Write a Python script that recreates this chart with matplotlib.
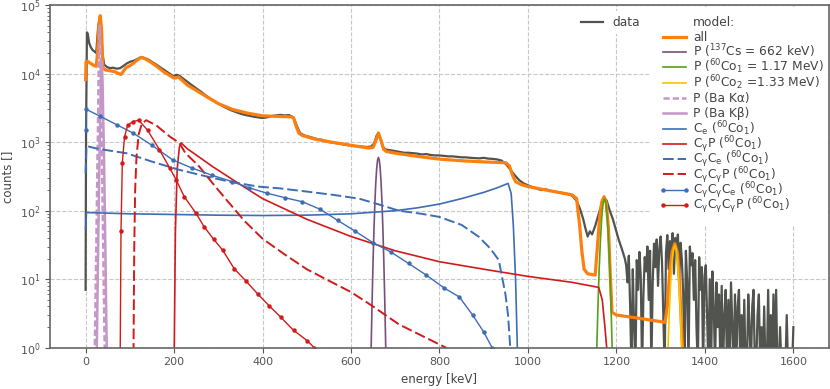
import numpy as np
import matplotlib
matplotlib.use("Agg")
from matplotlib import pyplot as plt
from matplotlib.lines import Line2D
from matplotlib.patches import Rectangle

# measured spectrum (channel energy [keV], counts)
e_data = [0, 1, 3, 5, 8, 12, 16, 20, 24, 28, 31, 33, 35, 38, 42, 48, 55, 62, 70, 78,
          86, 94, 102, 110, 118, 126, 134, 142, 150, 160, 170, 180, 190, 198, 206, 212,
          220, 230, 240, 250, 260, 270, 280, 290, 300, 310, 320, 330, 340, 350, 360, 370,
          380, 390, 400, 410, 420, 430, 440, 450, 460, 470, 478, 485, 495, 505, 515, 525,
          535, 545, 555, 565, 575, 585, 595, 605, 615, 625, 635, 645, 652, 658, 662, 667,
          672, 678, 690, 700, 710, 720, 730, 740, 750, 760, 770, 780, 790, 800, 810, 820,
          830, 840, 850, 860, 870, 880, 890, 900, 910, 920, 930, 940, 950, 960, 970, 980,
          990, 1000, 1010, 1020, 1030, 1040, 1050, 1060, 1070, 1080, 1090, 1100, 1110, 1118,
          1125, 1130, 1135, 1140, 1145, 1152, 1160, 1166, 1172, 1178, 1185, 1192, 1198, 1205,
          1212, 1219]
counts = [7, 1400, 40000, 38000, 28000, 24000, 22000, 21000, 20000, 45000, 62000, 65000, 50000,
          20000, 13500, 12500, 12000, 12200, 11800, 12000, 13000, 14200, 15000, 15500, 16500,
          17500, 16800, 16000, 14800, 13500, 12200, 11000, 10000, 9200, 9600, 9300, 8500,
          7600, 6800, 6100, 5500, 4900, 4400, 4000, 3650, 3350, 3100, 2900, 2750, 2600, 2500,
          2420, 2350, 2300, 2250, 2300, 2400, 2450, 2500, 2450, 2480, 2300, 1700, 1350, 1250,
          1200, 1150, 1100, 1080, 1020, 990, 970, 950, 920, 900, 880, 870, 860, 850, 860, 950,
          1250, 1350, 1100, 850, 780, 760, 740, 720, 700, 700, 690, 680, 660, 670, 650, 640,
          640, 630, 620, 620, 610, 600, 600, 590, 585, 580, 590, 575, 570, 560, 540, 480, 400,
          330, 280, 250, 235, 220, 210, 200, 205, 195, 190, 185, 180, 175, 165, 140, 105, 75,
          55, 42, 50, 45, 60, 90, 120, 155, 140, 100, 75, 55, 38, 28, 20]
# noisy high-energy tail, 3 keV channels from 1222 keV
e_tail = list(range(1222, 1601, 3))
counts_tail = [16, 9, 22, 4, 0.5, 14, 2, 0.5, 19, 7,
               25, 11, 0.5, 6, 21, 13, 30, 5, 26, 0.5,
               9, 33, 15, 38, 8, 28, 42, 18, 3, 0.5,
               24, 44, 14, 36, 22, 47, 12, 40, 28, 45,
               10, 34, 19, 6, 0.5, 26, 9, 0.5, 30, 16,
               24, 5, 19, 2, 0.5, 21, 7, 15, 0.5, 11,
               16, 3, 0.5, 10, 0.5, 13, 4, 0.5, 9, 2,
               6, 0.5, 8, 0.5, 3, 7, 0.5, 5, 0.5, 9,
               2, 0.5, 6, 0.5, 4, 7, 0.5, 3, 0.5, 5,
               0.5, 0.5, 6, 2, 0.5, 4, 7, 0.5, 0.5, 3,
               6, 0.5, 2, 0.5, 4, 0.5, 0.5, 7, 0.5, 3,
               0.5, 6, 0.5, 7, 0.5, 0.5, 2, 0.5, 0.5, 0.5,
               0.5, 3, 0.5, 0.5, 0.5, 0.5, 2]

# total model
e_all = [0, 1, 5, 12, 20, 24, 27, 30, 33, 36, 39, 45, 55, 65, 75, 80, 86, 92, 100, 110, 118,
         126, 134, 145, 160, 175, 190, 200, 205, 210, 218, 230, 250, 276, 300, 332, 366, 400,
         430, 465, 470, 476, 482, 490, 520, 560, 600, 640, 650, 656, 662, 668, 674, 680, 700,
         750, 800, 850, 900, 950, 958, 965, 972, 985, 1000, 1050, 1100, 1110, 1117, 1122,
         1127, 1135, 1152, 1157, 1162, 1167, 1172, 1177, 1182, 1186, 1190, 1200, 1250, 1310,
         1315, 1320, 1326, 1332, 1338, 1343, 1348, 1352]
all_model = [8200, 15000, 15000, 14000, 13000, 12800, 20000, 50000, 70000, 45000, 12000, 11300,
             11000, 10700, 10000, 9700, 11000, 12300, 13000, 14500, 16000, 17200, 16500, 15000,
             12900, 10800, 9400, 8600, 8700, 8900, 8000, 6800, 5700, 4500, 3650, 3000, 2650,
             2420, 2380, 2340, 2250, 1700, 1350, 1250, 1100, 990, 900, 820, 840, 1050, 1360,
             1050, 780, 730, 690, 620, 565, 535, 515, 500, 450, 330, 265, 240, 225, 195, 170,
             150, 60, 25, 14, 12, 11.5, 30, 80, 135, 160, 130, 55, 12, 3.3, 3.0, 2.7, 2.35, 4,
             12, 25, 33, 24, 8, 1.5, 0.5]

# photo peaks
e_cs = [644, 646, 648, 650, 652, 654, 656, 658, 660, 662, 664, 666, 668, 670, 672, 674, 676, 678, 680]
p_cs = [0.28, 1.45, 5.9, 20, 56, 132, 255, 411, 546, 600, 546, 411, 255, 132, 56, 20, 5.9, 1.45, 0.28]
e_co1 = [1152, 1155, 1158, 1161, 1164, 1167, 1170, 1173, 1176, 1179, 1182, 1185, 1188, 1191, 1194]
p_co1 = [0.1, 0.7, 3.6, 14, 39, 83, 129, 150, 129, 83, 39, 14, 3.6, 0.7, 0.1]
e_co2 = [1314, 1317, 1320, 1323, 1326, 1329, 1332, 1335, 1338, 1341, 1344, 1347, 1350]
p_co2 = [0.29, 1.2, 3.9, 9.7, 18.5, 27.3, 31, 27.3, 18.5, 9.7, 3.9, 1.2, 0.29]
e_ka = [20.5, 22, 24, 26, 27.5, 28.5, 30, 32, 34, 35.5, 36.5, 38, 40, 42, 43.5]
p_ka = [0.8, 3, 25, 200, 1000, 3000, 20000, 50000, 20000, 3000, 1000, 200, 25, 3, 0.8]
e_kb = [24.5, 26, 28, 30, 31.5, 33, 34.5, 36.5, 38.5, 40, 41.5, 43, 45, 47, 48.5]
p_kb = [0.5, 2, 20, 150, 700, 2000, 7000, 15000, 7000, 2000, 700, 150, 20, 2, 0.5]

# compton components of 60Co_1
e_ce = [0, 2, 50, 100, 200, 300, 400, 500, 600, 700, 750, 800, 850, 900, 930, 955, 962, 967, 972, 976, 980]
c_ce = [55, 94, 92, 90, 88, 86, 85, 86, 90, 100, 110, 125, 150, 185, 215, 250, 180, 60, 10, 1, 0.1]
e_cgp = [200, 203, 207, 212, 216, 230, 250, 287, 350, 400, 500, 600, 700, 800, 900, 1000,
         1100, 1160, 1168, 1174, 1178, 1181]
c_cgp = [0.5, 50, 400, 850, 975, 800, 650, 440, 240, 150, 75, 42, 26, 18, 14, 11, 9, 7.6, 5, 2, 1, 0.3]
e_cgce = [0, 2, 20, 50, 92, 150, 212, 270, 325, 392, 438, 500, 560, 618, 660, 708, 760,
          800, 850, 889, 915, 934, 949, 955, 960, 964]
c_cgce = [350, 880, 820, 760, 690, 520, 394, 320, 265, 224, 212, 190, 170, 150, 125, 100, 90,
          81, 62, 41.5, 28, 19, 6.1, 3, 1, 0.3]
e_cgcgp = [108, 110, 112, 115, 120, 127, 137, 160, 190, 212, 225, 257, 287, 320, 360, 400,
           450, 500, 550, 600, 650, 708, 760, 815, 840]
c_cgcgp = [0.5, 30, 200, 600, 1300, 1850, 2090, 1750, 1210, 975, 700, 440, 252, 140, 70, 39,
           23, 14, 9.5, 6.5, 4, 2.2, 1.5, 1, 0.7]
e_cgcgce = [0, 2, 32, 70, 107, 150, 197, 240, 285, 332, 370, 410, 450, 490, 530, 570, 610,
            650, 690, 730, 770, 810, 845, 875, 900, 919, 935]
c_cgcgce = [1500, 3000, 2400, 1800, 1360, 900, 550, 420, 330, 265, 215, 180, 155, 135, 105,
            72, 50, 34, 25, 17, 11.5, 7.5, 5.5, 3, 1.7, 1, 0.5]
e_cgcgcgp = [78, 80, 83, 88, 95, 107, 120, 140, 167, 190, 205, 223, 250, 268, 290, 310, 336,
             362, 389, 415, 441, 470, 501, 517, 530]
c_cgcgcgp = [0.5, 50, 500, 1200, 1750, 2000, 2090, 1500, 775, 420, 280, 160, 91, 58, 38, 26.5,
             14.2, 9.5, 6.1, 4.1, 2.8, 1.8, 1.27, 1, 0.7]

plt.rcParams['font.family'] = 'DejaVu Sans'
plt.rcParams['font.size'] = 8.5
plt.rcParams['text.color'] = '#444444'
plt.rcParams['axes.labelcolor'] = '#444444'
plt.rcParams['xtick.color'] = '#555555'
plt.rcParams['ytick.color'] = '#555555'
plt.rcParams['mathtext.default'] = 'regular'

W, H = 830, 389
fig = plt.figure(figsize=(W / 100, H / 100), dpi=100)
ax = fig.add_axes([0.0605, 0.106, 0.938, 0.881])

blue = '#3d6db5'
red = '#d21a1a'
ba = '#c397c7'
dash = (0, (5.5, 2))

h_data, = ax.plot(e_data + e_tail, counts + counts_tail, color='#50534e', lw=1.6, label='data')
h_all, = ax.plot(e_all, all_model, color='#ff7f0e', lw=2.3)
h_cs, = ax.plot(e_cs, p_cs, color='#76507a', lw=1.2)
h_co1, = ax.plot(e_co1, p_co1, color='#55a019', lw=1.2)
h_co2, = ax.plot(e_co2, p_co2, color='#f5c400', lw=1.2)
h_ka, = ax.plot(e_ka, p_ka, color=ba, lw=1.8, ls=(0, (2.5, 1.2)))
h_kb, = ax.plot(e_kb, p_kb, color=ba, lw=1.8)
h_ce, = ax.plot(e_ce, c_ce, color=blue, lw=1.2)
h_cgp, = ax.plot(e_cgp, c_cgp, color=red, lw=1.2)
h_cgce, = ax.plot(e_cgce, c_cgce, color=blue, lw=1.4, ls=dash)
h_cgcgp, = ax.plot(e_cgcgp, c_cgcgp, color=red, lw=1.4, ls=dash)
h_cgcgce, = ax.plot(e_cgcgce, c_cgcgce, color=blue, lw=1.0, marker='o', ms=2.2)
h_cgcgcgp, = ax.plot(e_cgcgcgp, c_cgcgcgp, color=red, lw=1.0, marker='o', ms=2.2)

ax.set_yscale('log')
ax.set_ylim(1, 1e5)
ax.set_xlim(-80, 1680)
ax.set_xticks([0, 200, 400, 600, 800, 1000, 1200, 1400, 1600])
ax.grid(True, which='major', ls='--', color='#c8c8c8', lw=0.8)
ax.set_axisbelow(True)
for s in ax.spines.values():
    s.set_color('#666666')
    s.set_linewidth(1.2)
ax.tick_params(labelsize=8, direction='out')
ax.set_xlabel('energy [keV]')
ax.set_ylabel('counts []')

ax.legend(handles=[h_data], loc='upper right', bbox_to_anchor=(0.772, 1.0), fontsize=8.8,
          frameon=True, framealpha=1, edgecolor='none', fancybox=False, borderaxespad=0.5,
          handlelength=1.8)

# model legend, laid out by hand so that every row has the same height
model_rows = [
    ('model:', None),
    ('all', h_all),
    ('P ($^{137}$Cs = 662 keV)', h_cs),
    ('P ($^{60}$Co$_1$ = 1.17 MeV)', h_co1),
    ('P ($^{60}$Co$_2$ =1.33 MeV)', h_co2),
    ('P (Ba Kα)', h_ka),
    ('P (Ba Kβ)', h_kb),
    ('C$_e$ ($^{60}$Co$_1$)', h_ce),
    ('C$_γ$P ($^{60}$Co$_1$)', h_cgp),
    ('C$_γ$C$_e$ ($^{60}$Co$_1$)', h_cgce),
    ('C$_γ$C$_γ$P ($^{60}$Co$_1$)', h_cgcgp),
    ('C$_γ$C$_γ$C$_e$ ($^{60}$Co$_1$)', h_cgcgce),
    ('C$_γ$C$_γ$C$_γ$P ($^{60}$Co$_1$)', h_cgcgcgp),
]
fig.add_artist(Rectangle((650 / W, 1 - 225 / H), 177 / W, 218 / H, transform=fig.transFigure,
                         facecolor='white', edgecolor='none', zorder=1))
for k, (label, h) in enumerate(model_rows):
    yc = 21.4 + 15.3 * k
    fig.text(693 / W, 1 - (yc + 4.3) / H, label, fontsize=8.8, va='baseline', ha='left',
             color='#444444', zorder=3)
    if h is not None:
        ln = Line2D([0, 1], [0, 0])
        ln.update_from(h)
        ln.set_data([663 / W, 686 / W], [1 - yc / H, 1 - yc / H])
        ln.set_transform(fig.transFigure)
        ln.set_clip_on(False)
        ln.set_zorder(2)
        fig.add_artist(ln)

fig.savefig('out.png', dpi=100)
